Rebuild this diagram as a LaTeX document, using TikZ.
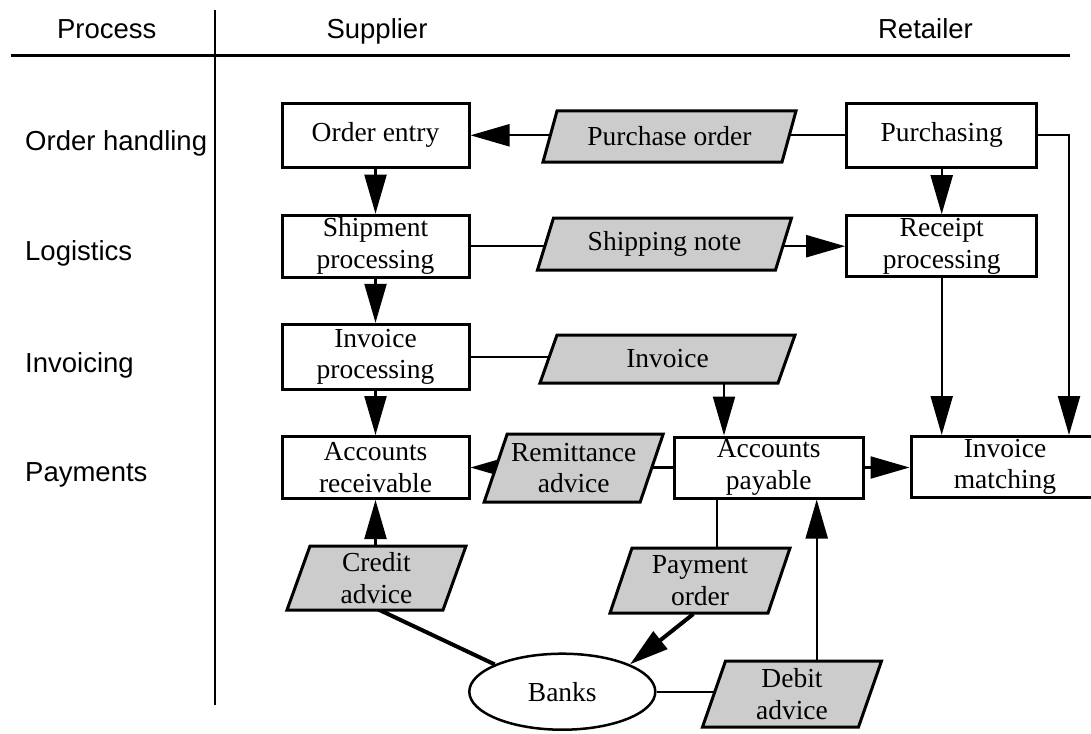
\documentclass[tikz,border=0pt]{standalone}
\usepackage{fontspec}
\setmainfont{Liberation Serif}
\setsansfont{Liberation Sans}
\usetikzlibrary{arrows.meta,shapes.geometric,calc}
\definecolor{docgray}{RGB}{204,204,204}
\pgfdeclarelayer{bg}
\pgfsetlayers{bg,main}
\tikzset{
  procbox/.style={draw, line width=3pt, fill=white, minimum width=187pt, minimum height=63pt,
    inner sep=0pt, align=center, font=\fontsize{27.5}{31.7}\selectfont},
  doctext/.style={inner sep=0pt, align=center, font=\fontsize{27.5}{31.7}\selectfont},
  docshape/.style={draw, fill=docgray, line width=3pt, line join=miter},
  conn/.style={line width=2.2pt},
  arr/.style={conn, -{Triangle[length=39pt,width=22pt]}},
  thickconn/.style={line width=4pt},
  lanelabel/.style={font=\sffamily\fontsize{27.5}{32}\selectfont, inner sep=0pt},
}
\newcommand{\docpara}[7]{%
  \filldraw[docshape] ({#2-#4-#6},{#3+#5}) -- ({#2-#4+#6},{#3-#5}) -- ({#2+#4+#6},{#3-#5}) -- ({#2+#4-#6},{#3+#5}) -- cycle;
  \node[doctext] (#1) at (#2,#3) {#7};
}
\begin{document}
\begin{tikzpicture}[x=1pt,y=-1pt]
\useasboundingbox (0,0) rectangle (1091,733);
\clip (0,0) rectangle (1091,733);

% headers and lane separators
\node[lanelabel, anchor=base] (hproc) at (106.7,38.3) {Process};
\node[lanelabel, anchor=base] (hsup) at (377,38.3) {Supplier};
\node[lanelabel, anchor=base] (hret) at (925.5,38.3) {Retailer};
\draw[line width=3pt] (11,56) -- (1070,56);
\draw[line width=2pt] (215,10) -- (215,705);

% row labels
\node[lanelabel, anchor=base west] (l1) at (25,150.7) {Order handling};
\node[lanelabel, anchor=base west] (l2) at (25,260) {Logistics};
\node[lanelabel, anchor=base west] (l3) at (25,372.3) {Invoicing};
\node[lanelabel, anchor=base west] (l4) at (25,481) {Payments};

% process boxes
\node[procbox, minimum height=64pt] (oe) at (375.5,135.3) {Order entry};
\node[procbox, minimum height=62pt] (ship) at (375.5,246.2) {Shipment\\processing};
\node[procbox, minimum height=65pt] (ip) at (375.5,356.8) {Invoice\\processing};
\node[procbox, minimum height=62pt] (ar) at (375.5,467.5) {Accounts\\receivable};
\node[procbox, minimum width=190pt, minimum height=64pt] (pur) at (941.7,135.3) {Purchasing};
\node[procbox, minimum width=190pt, minimum height=61pt] (rec) at (941.7,246.2) {Receipt\\processing};
\node[procbox, minimum width=189pt, minimum height=61pt] (ap) at (768.7,467.5) {Accounts\\payable};
\node[procbox, minimum width=188pt, minimum height=61pt] (im) at (1005,467) {Invoice\\matching};

% documents
\docpara{po}{669.5}{136.5}{119.5}{25.5}{7}{Purchase order}
\docpara{sn}{664.5}{244}{119}{26}{8}{Shipping note}
\docpara{inv}{667.5}{359}{119}{24}{8.5}{Invoice}
\docpara{rem}{573.7}{468}{78}{34}{11.5}{Remittance\\advice}
\docpara{cred}{376.5}{578}{78}{32}{11.5}{Credit\\advice}
\docpara{payo}{700}{580.5}{79}{32.5}{11}{Payment\\order}
\docpara{deb}{792}{694}{78}{33}{11.5}{Debit\\advice}

% banks
\node[draw, ellipse, line width=2.5pt, fill=white, minimum width=186pt, minimum height=76pt,
  inner sep=0pt, font=\fontsize{27.5}{31.7}\selectfont] (banks) at (562.3,691.7) {Banks};

% connector end points
\coordinate (apin) at ([xshift=-44.7pt]ap.north);
\coordinate (apout) at ([xshift=-52pt]ap.south);
\coordinate (apd) at ([xshift=48pt]ap.south);
\coordinate (imr) at ([xshift=64pt]im.north);
\coordinate (payob) at (693.3,614);
\coordinate (credb) at (377.3,609);

\begin{pgfonlayer}{bg}
\draw[arr] (oe.south) -- (ship.north);
\draw[arr] (ship.south) -- (ip.north);
\draw[arr] (ip.south) -- (ar.north);
\draw[arr] (po.center |- oe.east) -- (oe.east);
\draw[conn] (pur.west) -- (po.center |- pur.west);
\draw[conn] (ship.east) -- (sn.center |- ship.east);
\draw[arr] (sn.center |- rec.west) -- (rec.west);
\draw[arr] (pur.south) -- (rec.north);
\draw[arr] (rec.south) -- (rec.south |- im.north);
\draw[arr] (pur.east) -| (imr);
\draw[conn] (ip.east) -- (inv.center |- ip.east);
\draw[arr] (apin |- inv.center) -- (apin);
\draw[conn] (ap.west) -- (rem.center |- ap.west);
\draw[arr] (rem.center |- ar.east) -- (ar.east);
\draw[arr] (ap.east) -- (ap.east -| im.west);
\draw[conn] (apout) -- (apout |- payo.center);
\draw[arr, line width=4pt] (payob) -- (banks.22);
\draw[arr] (ar.south |- cred.center) -- (ar.south);
\draw[thickconn] (credb) -- (banks.158);
\draw[conn] (banks.east) -- (deb.center |- banks.east);
\draw[arr] (apd |- deb.center) -- (apd);
\end{pgfonlayer}
\end{tikzpicture}
\end{document}
